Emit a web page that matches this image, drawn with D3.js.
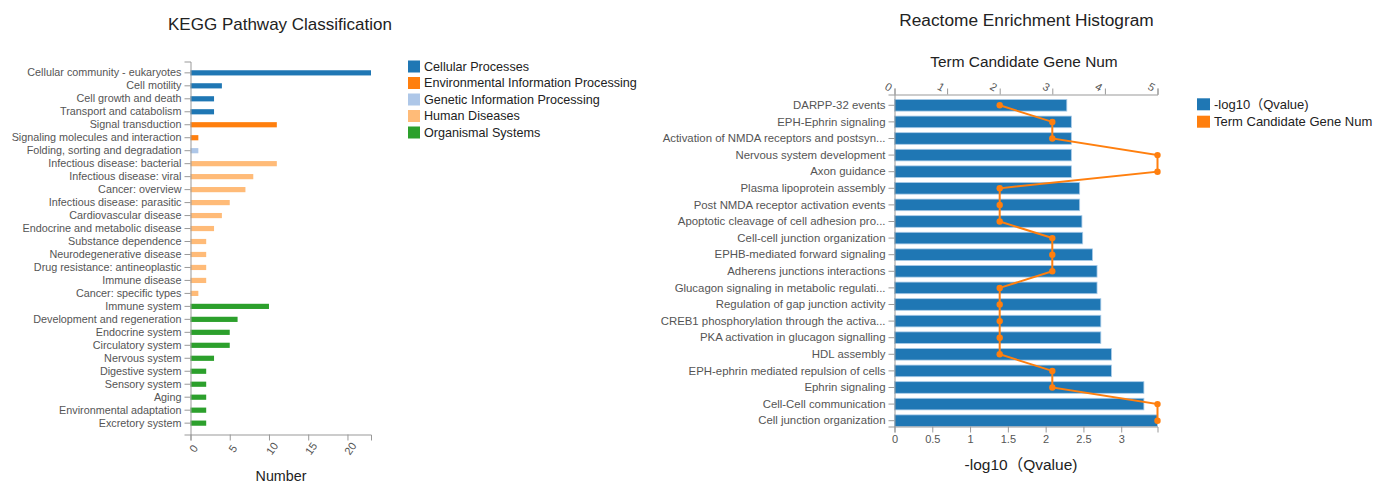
<!DOCTYPE html>
<html>
<head>
<meta charset="utf-8">
<script src="https://cdn.jsdelivr.net/npm/d3@7"></script>
<style>
  body { margin: 0; background: #fff; }
  svg { display: block; font-family: "Liberation Sans", Arial, "Noto Sans CJK SC", sans-serif; }
</style>
</head>
<body>
<svg id="chart" width="1376" height="484"></svg>
<script>
// ---------- KEGG pathway classification ----------
const keggPathways = [
  "Cellular community - eukaryotes", "Cell motility", "Cell growth and death", "Transport and catabolism",
  "Signal transduction", "Signaling molecules and interaction",
  "Folding, sorting and degradation",
  "Infectious disease: bacterial", "Infectious disease: viral", "Cancer: overview", "Infectious disease: parasitic",
  "Cardiovascular disease", "Endocrine and metabolic disease", "Substance dependence", "Neurodegenerative disease",
  "Drug resistance: antineoplastic", "Immune disease", "Cancer: specific types",
  "Immune system", "Development and regeneration", "Endocrine system", "Circulatory system", "Nervous system",
  "Digestive system", "Sensory system", "Aging", "Environmental adaptation", "Excretory system"
];
const keggCounts = [23, 4, 3, 3, 11, 1, 1, 11, 8, 7, 5, 4, 3, 2, 2, 2, 2, 1, 10, 6, 5, 5, 3, 2, 2, 2, 2, 2];
const keggClasses = [
  "Cellular Processes", "Cellular Processes", "Cellular Processes", "Cellular Processes",
  "Environmental Information Processing", "Environmental Information Processing",
  "Genetic Information Processing",
  "Human Diseases", "Human Diseases", "Human Diseases", "Human Diseases", "Human Diseases", "Human Diseases",
  "Human Diseases", "Human Diseases", "Human Diseases", "Human Diseases", "Human Diseases",
  "Organismal Systems", "Organismal Systems", "Organismal Systems", "Organismal Systems", "Organismal Systems",
  "Organismal Systems", "Organismal Systems", "Organismal Systems", "Organismal Systems", "Organismal Systems"
];
const classNames = [
  "Cellular Processes", "Environmental Information Processing", "Genetic Information Processing",
  "Human Diseases", "Organismal Systems"
];
const classColors = ["#1f77b4", "#ff7f0e", "#aec7e8", "#ffbb78", "#2ca02c"];
const numberTicks = [0, 5, 10, 15, 20];

// ---------- Reactome enrichment ----------
const reactomeTerms = [
  "DARPP-32 events", "EPH-Ephrin signaling", "Activation of NMDA receptors and postsyn...",
  "Nervous system development", "Axon guidance", "Plasma lipoprotein assembly",
  "Post NMDA receptor activation events", "Apoptotic cleavage of cell adhesion pro...",
  "Cell-cell junction organization", "EPHB-mediated forward signaling", "Adherens junctions interactions",
  "Glucagon signaling in metabolic regulati...", "Regulation of gap junction activity",
  "CREB1 phosphorylation through the activa...", "PKA activation in glucagon signalling", "HDL assembly",
  "EPH-ephrin mediated repulsion of cells", "Ephrin signaling", "Cell-Cell communication",
  "Cell junction organization"
];
const reactomeQ = [2.28, 2.34, 2.34, 2.34, 2.34, 2.45, 2.45, 2.48, 2.49, 2.62,
                   2.68, 2.68, 2.73, 2.73, 2.73, 2.87, 2.87, 3.30, 3.30, 3.48];
const reactomeGeneNum = [2, 3, 3, 5, 5, 2, 2, 2, 3, 3, 3, 2, 2, 2, 2, 2, 3, 3, 5, 5];
const qTicks = [0, 0.5, 1, 1.5, 2, 2.5, 3];
const geneTicks = [0, 1, 2, 3, 4, 5];
const reactomeLegend = ["-log10（Qvalue)", "Term Candidate Gene Num"];
const reactomeColors = ["#1f77b4", "#ff7f0e"];

const svg = d3.select("#chart");
const AXIS = "#999";
const TICK_TEXT = "#555";
const plainNumber = d3.format("~g");

function styleAxis(g, fontSize) {
  g.selectAll(".domain").attr("stroke", AXIS);
  g.selectAll(".tick line").attr("stroke", AXIS);
  g.selectAll(".tick text").attr("fill", TICK_TEXT).style("font-size", fontSize + "px");
  g.attr("font-family", null);
}

// ================= Left: KEGG bar chart =================
const kx = d3.scaleLinear().domain([0, d3.max(keggCounts)]).range([190.5, 371]);
const ky = d3.scaleBand().domain(keggPathways).range([61.5, 434.5]).paddingInner(0.6).paddingOuter(0.675);
const classColor = d3.scaleOrdinal().domain(classNames).range(classColors);

const keggData = keggPathways.map((p, i) => ({ name: p, value: keggCounts[i], cls: keggClasses[i] }));

svg.append("g").selectAll("rect").data(keggData).join("rect")
  .attr("x", kx(0))
  .attr("y", d => ky(d.name))
  .attr("width", d => kx(d.value) - kx(0))
  .attr("height", ky.bandwidth())
  .attr("fill", d => classColor(d.cls));

const kAxisY = svg.append("g").attr("transform", "translate(190.5,0)")
  .call(d3.axisLeft(ky).tickSizeOuter(6));
styleAxis(kAxisY, 10.8);

const kAxisX = svg.append("g").attr("transform", "translate(0,434.5)")
  .call(d3.axisBottom(kx).tickValues(numberTicks).tickFormat(plainNumber).tickSizeOuter(6));
styleAxis(kAxisX, 11);
kAxisX.selectAll(".tick text")
  .attr("x", 0).attr("y", 0).attr("dy", "0.35em")
  .attr("text-anchor", "middle")
  .attr("transform", "translate(2.5,14) rotate(-55)");

svg.append("text").attr("x", 280).attr("y", 30).attr("text-anchor", "middle")
  .style("font-size", "17px").attr("fill", "#222").text("KEGG Pathway Classification");
svg.append("text").attr("x", 281).attr("y", 481).attr("text-anchor", "middle")
  .style("font-size", "14.3px").attr("fill", "#222").text("Number");

const kLegend = svg.append("g").selectAll("g").data(classNames).join("g")
  .attr("transform", (d, i) => `translate(408,${66.5 + i * 16.5})`);
kLegend.append("rect").attr("x", 0).attr("y", -6).attr("width", 12).attr("height", 12)
  .attr("fill", d => classColor(d));
kLegend.append("text").attr("x", 16).attr("dy", "0.35em")
  .style("font-size", "12.6px").attr("fill", "#222").text(d => d);

// ================= Right: Reactome enrichment =================
const qx = d3.scaleLinear().domain([0, d3.max(reactomeQ)]).range([894.5, 1157.5]);
const gx = d3.scaleLinear().domain([0, d3.max(reactomeGeneNum)]).range([894.5, 1157.5]);
const ry = d3.scaleBand().domain(reactomeTerms).range([94.5, 426.5])
  .paddingInner(0.3).paddingOuter(0.15).align(1);

const reactomeData = reactomeTerms.map((t, i) => ({ term: t, q: reactomeQ[i], n: reactomeGeneNum[i] }));

svg.append("g").selectAll("rect").data(reactomeData).join("rect")
  .attr("x", qx(0))
  .attr("y", d => ry(d.term))
  .attr("width", d => qx(d.q) - qx(0))
  .attr("height", ry.bandwidth())
  .attr("fill", reactomeColors[0])
  .attr("stroke", "#a9cbe8").attr("stroke-width", 0.8);

const rAxisY = svg.append("g").attr("transform", "translate(894.5,0)")
  .call(d3.axisLeft(ry).tickSizeOuter(6));
styleAxis(rAxisY, 11.4);

const rAxisBottom = svg.append("g").attr("transform", "translate(0,426.5)")
  .call(d3.axisBottom(qx).tickValues(qTicks).tickFormat(plainNumber).tickSizeOuter(6));
styleAxis(rAxisBottom, 11);

const rAxisTop = svg.append("g").attr("transform", "translate(0,94.5)")
  .call(d3.axisTop(gx).tickValues(geneTicks).tickFormat(plainNumber).tickSizeOuter(6));
styleAxis(rAxisTop, 11);
rAxisTop.selectAll(".tick text")
  .attr("x", 0).attr("y", 0).attr("dy", "0.35em")
  .attr("text-anchor", "middle")
  .attr("transform", "translate(-6.5,-7.5) rotate(30)");

// gene count line with markers
const lineGen = d3.line()
  .x(d => gx(d.n))
  .y(d => ry(d.term) + ry.bandwidth() / 2);
svg.append("path").datum(reactomeData)
  .attr("d", lineGen)
  .attr("fill", "none").attr("stroke", reactomeColors[1]).attr("stroke-width", 2);
svg.append("g").selectAll("circle").data(reactomeData).join("circle")
  .attr("cx", d => gx(d.n))
  .attr("cy", d => ry(d.term) + ry.bandwidth() / 2)
  .attr("r", 3.2)
  .attr("fill", reactomeColors[1]);

svg.append("text").attr("x", 1026.5).attr("y", 26).attr("text-anchor", "middle")
  .style("font-size", "17.3px").attr("fill", "#222").text("Reactome Enrichment Histogram");
svg.append("text").attr("x", 1024).attr("y", 66.5).attr("text-anchor", "middle")
  .style("font-size", "15.4px").attr("fill", "#222").text("Term Candidate Gene Num");
svg.append("text").attr("x", 1021).attr("y", 469.5).attr("text-anchor", "middle")
  .style("font-size", "15.5px").attr("fill", "#222").text("-log10（Qvalue)");

const rLegend = svg.append("g").selectAll("g").data(reactomeLegend).join("g")
  .attr("transform", (d, i) => `translate(1197,${104.3 + i * 17.4})`);
rLegend.append("rect").attr("x", 0).attr("y", -6).attr("width", 13).attr("height", 12)
  .attr("fill", (d, i) => reactomeColors[i]);
rLegend.append("text").attr("x", 17).attr("dy", "0.35em")
  .style("font-size", "13px").attr("fill", "#222").text(d => d);
</script>
</body>
</html>
